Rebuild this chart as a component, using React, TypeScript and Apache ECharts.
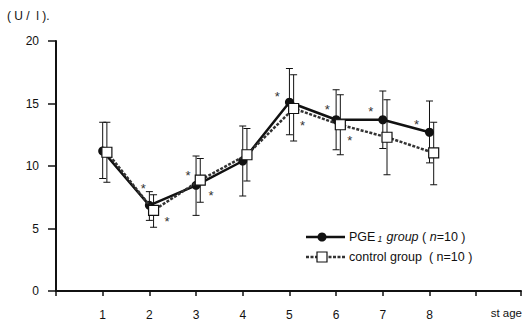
import React, { useEffect, useRef } from "react";
import * as echarts from "echarts";

const stages = [1, 2, 3, 4, 5, 6, 7, 8];
const pgeMean = [11.2, 6.85, 8.45, 10.4, 15.1, 13.7, 13.7, 12.7];
const pgeHigh = [13.5, 7.95, 10.8, 13.2, 17.8, 16.1, 16.0, 15.2];
const pgeLow = [9.0, 5.65, 6.05, 7.6, 12.5, 11.3, 11.4, 10.25];
const ctrlMean = [11.1, 6.45, 8.87, 10.9, 14.6, 13.3, 12.3, 11.05];
const ctrlHigh = [13.5, 7.7, 10.6, 13.0, 17.3, 15.7, 15.3, 13.5];
const ctrlLow = [8.7, 5.1, 7.1, 8.8, 12.0, 10.9, 9.3, 8.5];
const asteriskPoints = [
  [1.87, 8.47], [2.38, 5.8], [2.83, 9.5], [3.32, 7.9], [4.74, 15.8],
  [5.28, 13.5], [5.81, 14.8], [6.29, 12.3], [6.74, 14.6], [7.72, 13.6],
];
const yTicks = [0, 5, 10, 15, 20];

const CTRL_OFFSET = 0.09;
const FONT = "Liberation Sans, Arial, sans-serif";

function errorBarRender(params: any, api: any) {
  const x = api.value(0);
  const lo = api.value(1);
  const hi = api.value(2);
  const top = api.coord([x, hi]);
  const bot = api.coord([x, lo]);
  const hw = 3.5;
  const st = { stroke: "#111", lineWidth: 1 };
  return {
    type: "group",
    children: [
      { type: "line", shape: { x1: top[0], y1: top[1], x2: bot[0], y2: bot[1] }, style: st },
      { type: "line", shape: { x1: top[0] - hw, y1: top[1], x2: top[0] + hw, y2: top[1] }, style: st },
      { type: "line", shape: { x1: bot[0] - hw, y1: bot[1], x2: bot[0] + hw, y2: bot[1] }, style: st },
    ],
  };
}

export default function App() {
  const ref = useRef<HTMLDivElement>(null);
  useEffect(() => {
    if (!ref.current) return;
    const chart = echarts.init(ref.current, null, { renderer: "svg" });
    const option: any = {
      animation: false,
      backgroundColor: "#fff",
      textStyle: { fontFamily: FONT },
      grid: { left: 56, right: 0, top: 41, bottom: 29 },
      xAxis: {
        type: "value",
        min: 0,
        max: 9.96,
        interval: 1,
        axisLine: { lineStyle: { color: "#111", width: 2 } },
        axisTick: { show: true, length: 5, lineStyle: { color: "#111", width: 1.5 } },
        axisLabel: {
          margin: 18,
          fontSize: 12,
          color: "#111",
          fontFamily: FONT,
          formatter: (v: number) => (stages.includes(v) ? String(v) : ""),
        },
        splitLine: { show: false },
      },
      yAxis: {
        type: "value",
        min: yTicks[0],
        max: yTicks[yTicks.length - 1],
        interval: 5,
        axisLine: { show: true, lineStyle: { color: "#111", width: 2 } },
        axisTick: { show: true, length: 8, lineStyle: { color: "#111", width: 1.5 } },
        axisLabel: { margin: 17, fontSize: 12, color: "#111", fontFamily: FONT },
        splitLine: { show: false },
      },
      series: [
        {
          type: "custom",
          name: "pgeErr",
          renderItem: errorBarRender,
          data: stages.map((s, i) => [s, pgeLow[i], pgeHigh[i]]),
          z: 1,
        },
        {
          type: "custom",
          name: "ctrlErr",
          renderItem: errorBarRender,
          data: stages.map((s, i) => [s + CTRL_OFFSET, ctrlLow[i], ctrlHigh[i]]),
          z: 1,
        },
        {
          type: "line",
          name: "control group",
          data: stages.map((s, i) => [s + CTRL_OFFSET, ctrlMean[i]]),
          lineStyle: { color: "#333", width: 2.5, type: [3, 1.5] },
          symbol: "rect",
          symbolSize: 10,
          itemStyle: { color: "#fff", borderColor: "#111", borderWidth: 1.2 },
          z: 3,
        },
        {
          type: "line",
          name: "PGE1 group",
          data: stages.map((s, i) => [s, pgeMean[i]]),
          lineStyle: { color: "#111", width: 2.5 },
          symbol: "circle",
          symbolSize: 9,
          itemStyle: { color: "#111" },
          z: 2,
        },
        {
          type: "custom",
          name: "asterisks",
          data: asteriskPoints,
          renderItem: (params: any, api: any) => {
            const p = api.coord([api.value(0), api.value(1)]);
            return {
              type: "text",
              x: p[0],
              y: p[1] + 3,
              style: {
                text: "*",
                fontSize: 13,
                fontFamily: FONT,
                fill: "#333",
                align: "center",
                verticalAlign: "middle",
              },
            };
          },
          z: 4,
        },
      ],
      graphic: [
        {
          type: "text",
          left: 7,
          top: 10,
          style: { text: "( U /  l ).", fontSize: 12, fontFamily: FONT, fill: "#111" },
        },
        {
          type: "text",
          right: 2,
          top: 307,
          style: { text: "st age", fontSize: 11.5, fontFamily: FONT, fill: "#111" },
        },
        { type: "line", shape: { x1: 306, y1: 237, x2: 345, y2: 237 }, style: { stroke: "#111", lineWidth: 2.5 } },
        { type: "circle", shape: { cx: 322, cy: 237, r: 4.5 }, style: { fill: "#111" } },
        {
          type: "text",
          left: 349,
          top: 230,
          style: {
            text: "{n|PGE}{s|1}{i| group }{n|( }{i|n}{n|=10 )}",
            fontFamily: FONT,
            fill: "#111",
            rich: {
              n: { fontSize: 12.5, fontFamily: FONT, fill: "#111" },
              i: { fontSize: 12.5, fontFamily: FONT, fontStyle: "italic", fill: "#111" },
              s: { fontSize: 8.5, fontFamily: FONT, fontStyle: "italic", fill: "#111", padding: [4, 1, 0, 2] },
            },
          },
        },
        { type: "line", shape: { x1: 306, y1: 257, x2: 345, y2: 257 }, style: { stroke: "#333", lineWidth: 2.5, lineDash: [3, 1.5] } },
        { type: "rect", shape: { x: 317, y: 252, width: 10, height: 10 }, style: { fill: "#fff", stroke: "#111", lineWidth: 1.2 } },
        {
          type: "text",
          left: 349,
          top: 250,
          style: {
            text: "{n|control group  ( n=10 )}",
            fontFamily: FONT,
            fill: "#111",
            rich: { n: { fontSize: 12.5, fontFamily: FONT, fill: "#111" } },
          },
        },
      ],
    };
    chart.setOption(option);
    return () => chart.dispose();
  }, []);
  return (
    <div
      ref={ref}
      style={{ position: "fixed", left: 0, top: 0, width: 524, height: 321, background: "#fff" }}
    />
  );
}
